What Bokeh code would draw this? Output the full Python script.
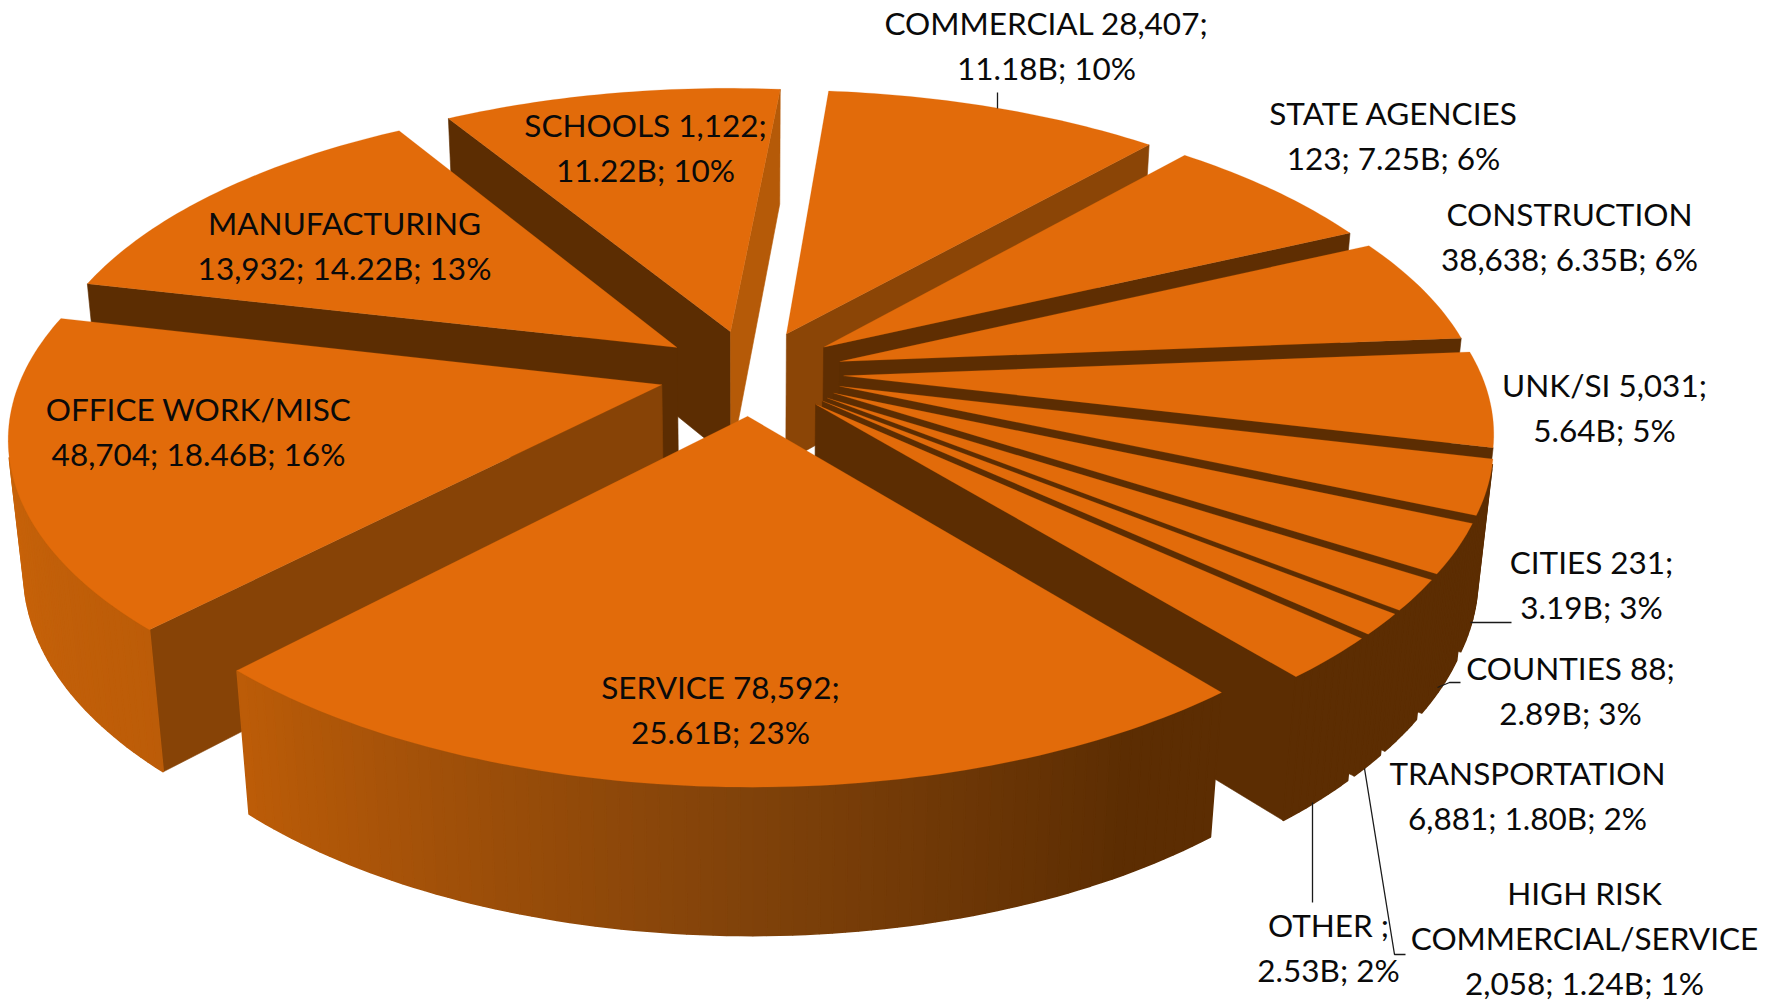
import math
from bokeh.plotting import figure
from bokeh.models import ColumnDataSource
from bokeh.core.properties import value
from bokeh.embed import file_html
from bokeh.resources import INLINE

categories = ["COMMERCIAL", "STATE AGENCIES", "CONSTRUCTION", "UNK/SI", "CITIES", "COUNTIES",
              "TRANSPORTATION", "HIGH RISK COMMERCIAL/SERVICE", "OTHER", "SERVICE",
              "OFFICE WORK/MISC", "MANUFACTURING", "SCHOOLS"]
billions = [11.18, 7.25, 6.35, 5.64, 3.19, 2.89, 1.80, 1.24, 2.53, 25.61, 18.46, 14.22, 11.22]
label_lines = [
    ["COMMERCIAL 28,407;", "11.18B; 10%"],
    ["STATE AGENCIES", "123; 7.25B; 6%"],
    ["CONSTRUCTION", "38,638; 6.35B; 6%"],
    ["UNK/SI 5,031;", "5.64B; 5%"],
    ["CITIES 231;", "3.19B; 3%"],
    ["COUNTIES 88;", "2.89B; 3%"],
    ["TRANSPORTATION", "6,881; 1.80B; 2%"],
    ["HIGH RISK", "COMMERCIAL/SERVICE", "2,058; 1.24B; 1%"],
    ["OTHER ;", "2.53B; 2%"],
    ["SERVICE 78,592;", "25.61B; 23%"],
    ["OFFICE WORK/MISC", "48,704; 18.46B; 16%"],
    ["MANUFACTURING", "13,932; 14.22B; 13%"],
    ["SCHOOLS 1,122;", "11.22B; 10%"],
]

# ---- layout and style ----
label_anchor = [(1046, 22), (1393, 112), (1569, 213), (1604, 384), (1591, 561), (1570, 667),
                (1527, 772), (1584, 892), (1328, 924), (720, 686), (198, 408), (344, 222), (645, 124)]
LINE_GAP = 45.0
leaders = [
    ([997, 997], [92, 108]),
    ([1470, 1511], [622, 622]),
    ([1437, 1449, 1460], [687, 682, 682]),
    ([1364, 1394, 1405], [768, 954, 954]),
    ([1312, 1312], [802, 902]),
]
CX, CY, A, B, K, M, H, ROLL = 750.5, 372.0, 638.0, 295.0, 0.162, 0.0206, 132.5, 0.003
EXPLODE, START = 0.145, 5.0
TOP = "#E26B0A"
OUTER_STOPS = [(0, "#5C2D02"), (150, "#5C2D02"), (180, "#80420A"), (223, "#BC5C08"),
               (270, "#CC650A"), (360, "#CC650A")]
RADIAL_STOPS = [(0, "#B55A08"), (95, "#B55A08"), (131, "#8B4506"), (156, "#5C2D02"), (360, "#5C2D02")]


def proj(x, y, z):
    w = 1 + K * y - M * z
    px = A * x / w
    return CX + px, CY - (B * y + H * z) / w + ROLL * px


def shade(stops, angle):
    angle %= 360
    for (a0, c0), (a1, c1) in zip(stops, stops[1:]):
        if a0 <= angle <= a1:
            t = (angle - a0) / (a1 - a0)
            rgb = [round(int(c0[i:i + 2], 16) * (1 - t) + int(c1[i:i + 2], 16) * t) for i in (1, 3, 5)]
            return "#%02X%02X%02X" % tuple(rgb)
    return stops[-1][1]


def area(pts):
    return sum(p[0] * q[1] - q[0] * p[1] for p, q in zip(pts, pts[1:] + pts[:1])) / 2


total = sum(billions)
slices = []
cum = 0.0
for v in billions:
    a0 = START + cum / total * 360
    cum += v
    a1 = START + cum / total * 360
    slices.append((a0, a1))

xs, ys, colors, widths = [], [], [], []


def add(pts, col, lw=0.6):
    xs.append([p[0] for p in pts])
    ys.append([p[1] for p in pts])
    colors.append(col)
    widths.append(lw)


order = sorted(range(len(slices)),
               key=lambda i: -math.cos(math.radians((slices[i][0] + slices[i][1]) / 2)))
for i in order:
    a0, a1 = slices[i]
    mid = math.radians((a0 + a1) / 2)
    ox, oy = EXPLODE * math.sin(mid), EXPLODE * math.cos(mid)
    n = max(2, int((a1 - a0) / 1.0) + 1)
    angs = [a0 + (a1 - a0) * j / n for j in range(n + 1)]
    rim = [(ox + math.sin(math.radians(t)), oy + math.cos(math.radians(t))) for t in angs]
    top_rim = [proj(u, w, 0) for u, w in rim]
    bot_rim = [proj(u, w, -1) for u, w in rim]
    apex_t, apex_b = proj(ox, oy, 0), proj(ox, oy, -1)
    # radial faces
    q = [top_rim[0], apex_t, apex_b, bot_rim[0]]
    if area(q) > 0:
        add(q, shade(RADIAL_STOPS, a0 - 90))
    q = [apex_t, top_rim[-1], bot_rim[-1], apex_b]
    if area(q) > 0:
        add(q, shade(RADIAL_STOPS, a1 + 90))
    # outer wall
    for j in range(n):
        q = [top_rim[j], top_rim[j + 1], bot_rim[j + 1], bot_rim[j]]
        if area(q) < 0:
            add(q, shade(OUTER_STOPS, (angs[j] + angs[j + 1]) / 2), 1.6)
    # top face
    add([apex_t] + top_rim, TOP, 0.2)

p = figure(width=1766, height=1004, x_range=(0, 1766), y_range=(1004, 0),
           output_backend="svg", toolbar_location=None, min_border=0)
p.axis.visible = False
p.grid.visible = False
p.outline_line_color = None
p.background_fill_color = "white"

p.patches("x", "y", source=ColumnDataSource(dict(x=xs, y=ys, c=colors, w=widths)),
          fill_color="c", line_color="c", line_width="w")

for lx, ly in leaders:
    p.line(lx, ly, line_color="#1a1a1a", line_width=1.3)

tx, ty, tt = [], [], []
for lines, (ax, ay) in zip(label_lines, label_anchor):
    for j, s in enumerate(lines):
        tx.append(ax)
        ty.append(ay + j * LINE_GAP)
        tt.append(s)
p.text(x="x", y="y", text="t", source=ColumnDataSource(dict(x=tx, y=ty, t=tt)),
       text_font=value("Lato"), text_font_size="31.5px", text_color="#0a0a0a",
       text_align="center", text_baseline="middle")

open("out.html", "w").write(file_html(p, INLINE))
